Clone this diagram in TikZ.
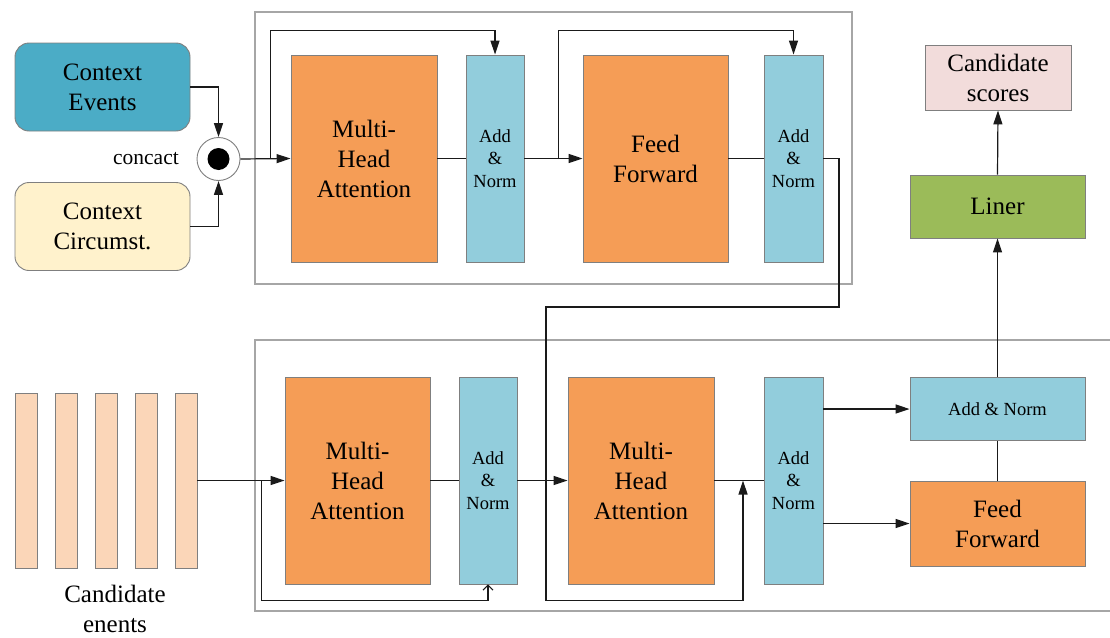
\documentclass[tikz,border=0pt]{standalone}
\usepackage{fontspec}
\setmainfont{Liberation Serif}
\usetikzlibrary{arrows.meta}

\definecolor{evfill}{HTML}{4BACC6}
\definecolor{cifill}{HTML}{FFF2CC}
\definecolor{orfill}{HTML}{F59D56}
\definecolor{anfill}{HTML}{92CDDC}
\definecolor{barfill}{HTML}{FBD6B8}
\definecolor{lnfill}{HTML}{9BBB59}
\definecolor{scfill}{HTML}{F2DCDB}
\definecolor{edgegray}{HTML}{7F7F7F}
\definecolor{framegray}{HTML}{A6A6A6}
\definecolor{wire}{HTML}{1A1A1A}

\tikzset{
  bigtext/.style={font=\fontsize{25}{30}\selectfont},
  smalltext/.style={font=\fontsize{18.5}{22.5}\selectfont},
  blk/.style={draw=edgegray, line width=0.9pt, inner sep=0pt, align=center, text=black},
  ctxbox/.style={blk, bigtext, rounded corners=14pt, minimum width=175, minimum height=88},
  orbox/.style={blk, bigtext, fill=orfill},
  anbox/.style={blk, smalltext, fill=anfill},
  barbox/.style={blk, fill=barfill, minimum width=22, minimum height=175},
  frame/.style={draw=framegray, line width=1.3pt},
  wireline/.style={draw=wire, line width=1.2pt},
  arr/.style={wireline, -{Triangle[length=14pt,width=9pt]}},
  openarr/.style={wireline, -{Straight Barb[length=5pt,width=10pt,line width=1pt]}}
}

\begin{document}
\begin{tikzpicture}[x=1pt,y=-1pt]
\useasboundingbox (0,0) rectangle (1110,637);

% ---------- encoder over context ----------
\draw[frame] (255,12) rectangle (852,284);

\node[ctxbox, fill=evfill] (ev) at (102.5,87) {Context\\Events};
\node[ctxbox, fill=cifill] (ci) at (102.5,226.5) {Context\\Circumst.};

\node[circle, draw=edgegray, line width=0.9pt, fill=white, minimum size=43, inner sep=0pt] (cat) at (218.5,159) {};
\fill[black] (cat.center) circle[radius=11];
\node[font=\fontsize{21.5}{25}\selectfont, anchor=east, inner sep=0pt] (catlbl) at (179,159) {concact};

\node[orbox, minimum width=146, minimum height=207] (mhaA) at (364,158.5) {Multi-\\Head\\Attention};
\node[anbox, minimum width=58, minimum height=207] (anA) at (495,158.5) {Add\\\&\\Norm};
\node[orbox, minimum width=145, minimum height=207] (ffA) at (655.5,158.5) {Feed\\Forward};
\node[anbox, minimum width=59, minimum height=207] (anB) at (793.5,158.5) {Add\\\&\\Norm};

\draw[arr] (ev.east) -| (cat.north);
\draw[arr] (ci.east) -| (cat.south);
\draw[arr] (cat.east) -- (mhaA.west);

\coordinate (skA) at (270.5,159);
\coordinate (skAt) at (270.5,30.5);
\draw[arr] (skA) -- (skAt) -| (anA.north);

\draw[wireline] (mhaA.east) -- (anA.west);
\draw[arr] (anA.east) -- (ffA.west);

\coordinate (skB) at (558.5,159);
\coordinate (skBt) at (558.5,30.5);
\draw[arr] (skB) -- (skBt) -| (anB.north);

\draw[wireline] (ffA.east) -- (anB.west);

% ---------- decoder over candidates ----------
\draw[frame] (1112,340) -- (255,340) -- (255,611) -- (1112,611);

\foreach \i in {1,...,5}{
  \node[barbox] (bar\i) at ({26+40*(\i-1)},480.5) {};
}
\node[bigtext, align=center, inner sep=0pt] (candlbl) at (115,609) {Candidate\\enents};

\node[orbox, minimum width=145, minimum height=207] (mhaB) at (357.5,480.5) {Multi-\\Head\\Attention};
\node[anbox, minimum width=58, minimum height=207] (anC) at (488,480.5) {Add\\\&\\Norm};
\node[orbox, minimum width=146, minimum height=207] (mhaC) at (641,480.5) {Multi-\\Head\\Attention};
\node[anbox, minimum width=59, minimum height=207] (anD) at (793.5,480.5) {Add\\\&\\Norm};

\node[anbox, minimum width=175, minimum height=63] (anE) at (997.5,409) {Add \& Norm};
\node[orbox, minimum width=175, minimum height=85] (ffB) at (997.5,523.5) {Feed\\Forward};
\node[blk, bigtext, fill=lnfill, minimum width=175, minimum height=63] (lin) at (997.5,206.5) {Liner};
\node[blk, bigtext, fill=scfill, minimum width=146, minimum height=65] (sc) at (998,77.5) {Candidate\\scores};

\draw[arr] (bar5.east) -- (mhaB.west);
\coordinate (skC) at (261.5,480.5);
\coordinate (skCb) at (261.5,600.5);
\draw[openarr] (skC) -- (skCb) -| (anC.south);

\draw[wireline] (mhaB.east) -- (anC.west);
\draw[arr] (anC.east) -- (mhaC.west);
\draw[wireline] (mhaC.east) -- (anD.west);

% context memory routed into the second attention block
\coordinate (mem1) at (839,158.5);
\coordinate (mem2) at (839,307);
\coordinate (mem3) at (546,307);
\coordinate (mem4) at (546,600.5);
\coordinate (mem5) at (743,600.5);
\coordinate (memin) at (743,480.5);
\draw[arr] (anB.east) -- (mem1) -- (mem2) -- (mem3) -- (mem4) -- (mem5) -- (memin);

\draw[arr] (anD.east |- anE.west) -- (anE.west);
\draw[arr] (anD.east |- ffB.west) -- (ffB.west);
\draw[wireline] (ffB.north) -- (anE.south);
\draw[arr] (anE.north) -- (lin.south);
\draw[arr] (lin.north) -- (sc.south);
\end{tikzpicture}
\end{document}
